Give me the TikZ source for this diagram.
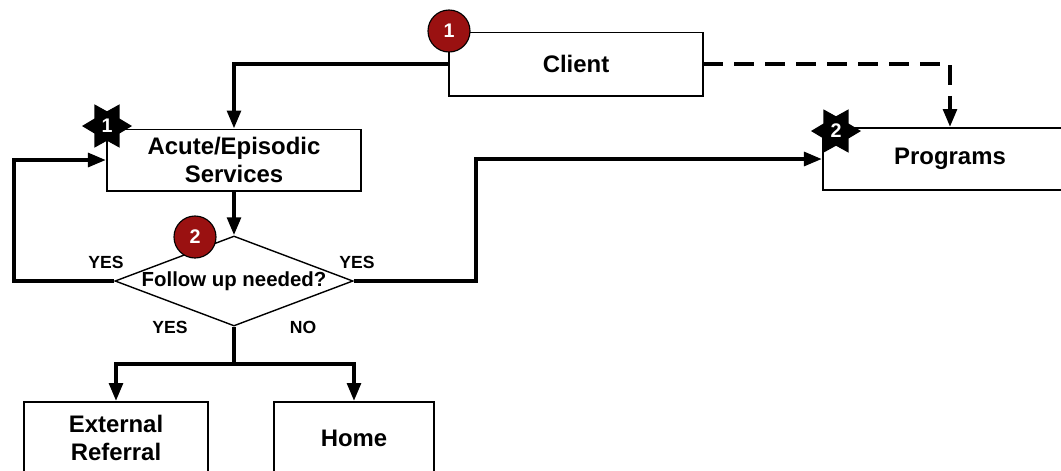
\documentclass[tikz,border=0pt]{standalone}
\usepackage{fontspec}
\setmainfont{Liberation Sans}
\usepackage{xcolor}
\usetikzlibrary{shapes.geometric,arrows.meta,positioning,calc}

\definecolor{badgered}{HTML}{9A1111}

\begin{document}
\begin{tikzpicture}[x=0.025cm, y=-0.025cm,
  box/.style={draw, rectangle, line width=1.4pt, align=center,
              font=\fontsize{17}{20}\selectfont\bfseries, inner sep=0pt},
  decision/.style={draw, diamond, line width=1pt, inner sep=0pt, shape aspect=2.64,
                   minimum width=5.95cm, minimum height=2.25cm,
                   font=\fontsize{14.5}{17}\selectfont\bfseries},
  badge/.style={draw, circle, fill=badgered, line width=0.8pt, minimum size=1.05cm,
                inner sep=0pt, text=white, font=\fontsize{14}{16}\selectfont\bfseries},
  mark star/.style={star, star points=6, star point ratio=1.7, fill=black,
                    shape border rotate=90, minimum size=1.25cm, inner sep=0pt,
                    text=white, font=\fontsize{14}{16}\selectfont\bfseries},
  lbl/.style={font=\fontsize{12.5}{14}\selectfont\bfseries},
  flow/.style={draw, line width=2.8pt, -{Triangle[length=0.45cm, width=0.34cm]}},
  line/.style={draw, line width=2.8pt}
]
\clip (0,0) rectangle (1061,470);

% Boxes
\node[box, minimum width=6.325cm, minimum height=1.575cm] (client)   at (576, 64)  {Client};
\node[box, minimum width=6.35cm,  minimum height=1.525cm] (acute)    at (234, 160) {Acute/Episodic\\Services};
\node[box, minimum width=6.35cm,  minimum height=1.55cm]  (programs) at (950, 159) {Programs};
\node[box, minimum width=4.6cm,   minimum height=1.8cm]   (extref)   at (116, 438) {External\\Referral};
\node[box, minimum width=3.975cm, minimum height=1.8cm]   (home)     at (354, 438) {Home};

% Decision
\node[decision] (decide) at (234, 281) {Follow up needed?};

% Turning points
\coordinate (loopL) at (14, 281);
\coordinate (loopR) at (476, 281);
\coordinate (split) at (234, 364);

% Connections
\draw[flow] (client.west) -| (acute.north);
\draw[flow, dash pattern=on 14pt off 8pt] (client.east) -| (programs.north);
\draw[flow] (acute.south) -- (decide.north);
\draw[flow] (decide.west) -- (loopL) |- (acute.west);
\draw[flow] (decide.east) -- (loopR) |- (programs.west);
\draw[line] (decide.south) -- (split);
\foreach \t in {extref,home}
  \draw[flow] (split) -| (\t.north);

% Labels
\node[lbl] (yesL) at (106, 262) {YES};
\node[lbl] (yesR) at (357, 262) {YES};
\node[lbl] (yesD) at (170, 327) {YES};
\node[lbl] (noD)  at (303, 327) {NO};

% Markers
\node[badge] (b1) at (449, 31)  {1};
\node[badge] (b2) at (195, 237) {2};
\node[mark star] (s1) at (107, 126) {1};
\node[mark star] (s2) at (836, 131) {2};

\end{tikzpicture}
\end{document}
